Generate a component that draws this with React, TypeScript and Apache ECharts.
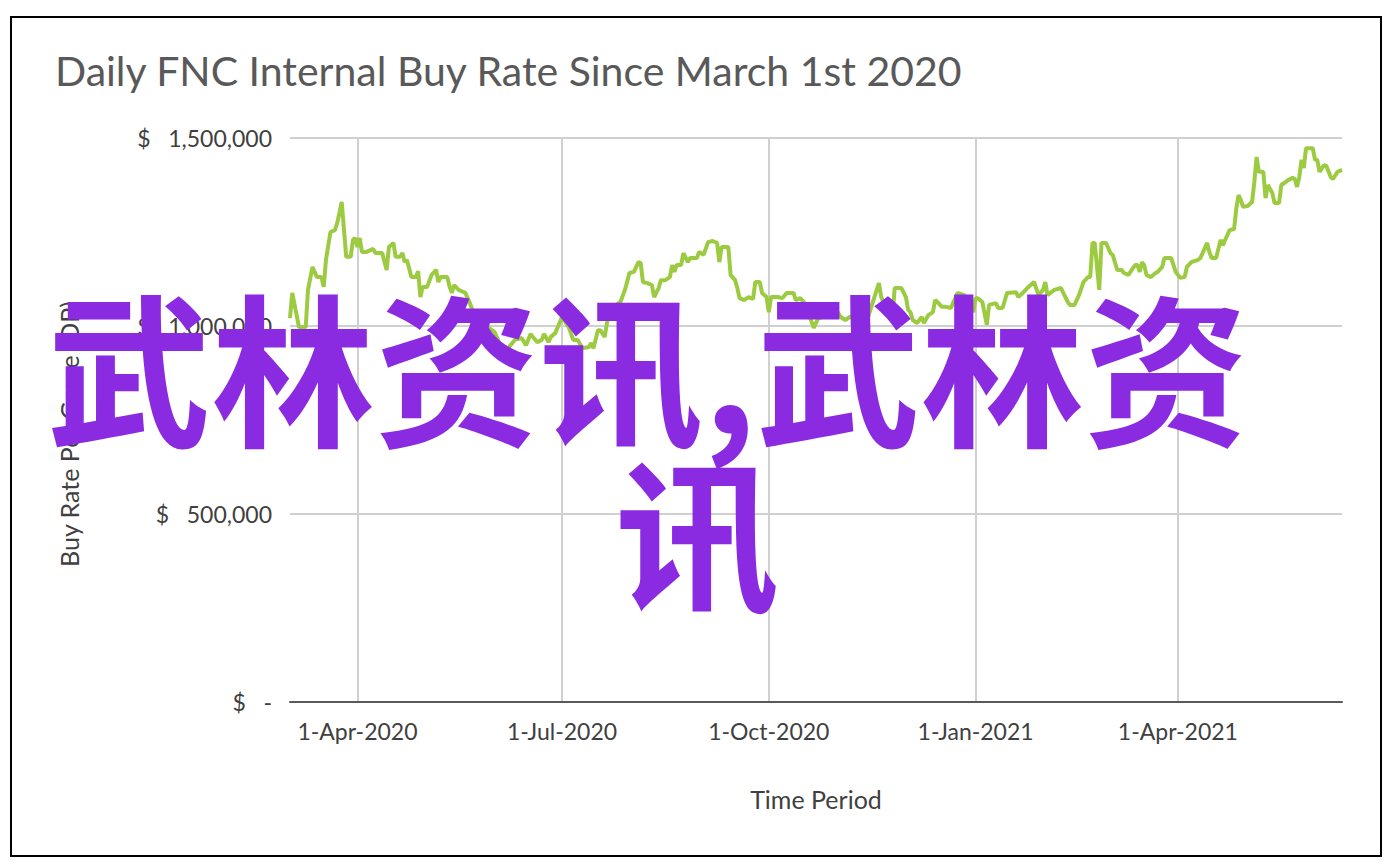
import React, { useEffect, useRef } from "react";
import * as echarts from "echarts";

// ---- data ----
const dates: string[] = [
  "2020-03-02","2020-03-03","2020-03-06","2020-03-09","2020-03-10","2020-03-12","2020-03-14","2020-03-16","2020-03-17","2020-03-18","2020-03-20","2020-03-22","2020-03-23","2020-03-24","2020-03-25","2020-03-27","2020-03-29","2020-03-30","2020-03-31",
  "2020-04-01","2020-04-02","2020-04-03","2020-04-05","2020-04-08","2020-04-09","2020-04-12","2020-04-14","2020-04-15","2020-04-17","2020-04-18","2020-04-20","2020-04-21","2020-04-22","2020-04-23","2020-04-25","2020-04-27","2020-04-28","2020-04-29","2020-04-30",
  "2020-05-02","2020-05-04","2020-05-06","2020-05-07","2020-05-08","2020-05-11","2020-05-12","2020-05-13","2020-05-14","2020-05-16","2020-05-19","2020-05-21","2020-05-23","2020-05-27","2020-05-29",
  "2020-06-01","2020-06-04","2020-06-07","2020-06-10","2020-06-13","2020-06-15","2020-06-17","2020-06-20","2020-06-22","2020-06-23","2020-06-25","2020-06-26","2020-06-28",
  "2020-07-01","2020-07-04","2020-07-06","2020-07-08","2020-07-10","2020-07-13","2020-07-14","2020-07-15","2020-07-17","2020-07-18","2020-07-20","2020-07-21","2020-07-22","2020-07-27","2020-07-29","2020-07-31",
  "2020-08-02","2020-08-04","2020-08-05","2020-08-06","2020-08-08","2020-08-10","2020-08-11","2020-08-13","2020-08-14","2020-08-16","2020-08-18","2020-08-19","2020-08-20","2020-08-21","2020-08-23","2020-08-24","2020-08-26","2020-08-27","2020-08-30","2020-08-31",
  "2020-09-02","2020-09-04","2020-09-06","2020-09-08","2020-09-09","2020-09-10","2020-09-13","2020-09-14","2020-09-16","2020-09-17","2020-09-18","2020-09-20","2020-09-22","2020-09-24","2020-09-25","2020-09-27","2020-09-28","2020-09-30",
  "2020-10-01","2020-10-02","2020-10-05","2020-10-07","2020-10-09","2020-10-12","2020-10-13","2020-10-15","2020-10-17","2020-10-19","2020-10-21","2020-10-23","2020-10-25","2020-10-27","2020-10-31",
  "2020-11-02","2020-11-04","2020-11-06","2020-11-09","2020-11-12","2020-11-14","2020-11-17","2020-11-19","2020-11-20","2020-11-21","2020-11-23","2020-11-25","2020-11-26","2020-11-29",
  "2020-12-01","2020-12-02","2020-12-03","2020-12-04","2020-12-06","2020-12-08","2020-12-09","2020-12-11","2020-12-13","2020-12-14","2020-12-15","2020-12-17","2020-12-19","2020-12-21","2020-12-24","2020-12-27","2020-12-29","2020-12-31",
  "2021-01-01","2021-01-02","2021-01-04","2021-01-06","2021-01-07","2021-01-10","2021-01-11","2021-01-13","2021-01-15","2021-01-19","2021-01-20","2021-01-22","2021-01-24","2021-01-27","2021-01-29","2021-01-31",
  "2021-02-01","2021-02-02","2021-02-05","2021-02-08","2021-02-09","2021-02-11","2021-02-12","2021-02-14","2021-02-16","2021-02-18","2021-02-20","2021-02-21","2021-02-22","2021-02-23","2021-02-25","2021-02-26","2021-02-28",
  "2021-03-02","2021-03-03","2021-03-05","2021-03-07","2021-03-08","2021-03-10","2021-03-12","2021-03-13","2021-03-14","2021-03-15","2021-03-16","2021-03-17","2021-03-18","2021-03-20","2021-03-22","2021-03-23","2021-03-25","2021-03-26","2021-03-29","2021-03-31",
  "2021-04-02","2021-04-04","2021-04-05","2021-04-07","2021-04-10","2021-04-11","2021-04-12","2021-04-14","2021-04-15","2021-04-16","2021-04-18","2021-04-20","2021-04-21","2021-04-23","2021-04-24","2021-04-26","2021-04-27","2021-04-28","2021-04-29","2021-04-30",
  "2021-05-02","2021-05-04","2021-05-05","2021-05-06","2021-05-07","2021-05-09","2021-05-10","2021-05-11","2021-05-13","2021-05-14","2021-05-16","2021-05-17","2021-05-19","2021-05-20","2021-05-22","2021-05-23","2021-05-24","2021-05-25","2021-05-26","2021-05-27","2021-05-28","2021-05-31",
  "2021-06-01","2021-06-02","2021-06-03","2021-06-05","2021-06-06","2021-06-08","2021-06-09","2021-06-11","2021-06-13",
];

const buyRate: number[] = [
  1021000,1088000,997000,997000,1096000,1157000,1130000,1130000,1104000,1176000,1250000,1255000,1274000,1301000,1330000,1184000,1184000,1229000,1234000,
  1210000,1234000,1197000,1197000,1205000,1194000,1194000,1149000,1210000,1221000,1184000,1184000,1194000,1170000,1176000,1130000,1130000,1146000,1077000,1104000,
  1104000,1136000,1149000,1117000,1130000,1130000,1104000,1088000,1109000,1096000,1088000,1061000,1029000,1011000,997000,
  984000,944000,941000,963000,968000,949000,979000,957000,963000,979000,957000,971000,981000,
  1024000,997000,963000,963000,941000,944000,955000,941000,989000,989000,971000,1008000,1043000,1064000,1096000,1141000,
  1144000,1170000,1168000,1117000,1114000,1109000,1077000,1101000,1122000,1122000,1130000,1162000,1144000,1162000,1162000,1194000,1170000,1181000,1181000,1197000,
  1189000,1223000,1226000,1221000,1170000,1210000,1210000,1136000,1122000,1101000,1074000,1069000,1077000,1072000,1117000,1117000,1088000,1077000,
  1037000,1077000,1077000,1074000,1088000,1088000,1069000,1074000,1061000,1029000,995000,1021000,1024000,1053000,1043000,
  1024000,1016000,1024000,1029000,1021000,1021000,1077000,1114000,1077000,1064000,1035000,1021000,1101000,1101000,
  1077000,1043000,1037000,1016000,1008000,1024000,1008000,1029000,1037000,1069000,1064000,1051000,1051000,1048000,1088000,1082000,1064000,1037000,
  1074000,1074000,1064000,1003000,1056000,1061000,1048000,1048000,1088000,1090000,1077000,1088000,1101000,1117000,1082000,1096000,
  1117000,1082000,1096000,1101000,1088000,1064000,1056000,1056000,1082000,1117000,1130000,1130000,1221000,1221000,1096000,1221000,1221000,
  1194000,1189000,1149000,1149000,1141000,1136000,1154000,1162000,1162000,1144000,1170000,1162000,1136000,1130000,1141000,1144000,1157000,1181000,1181000,1144000,
  1128000,1130000,1157000,1170000,1176000,1181000,1194000,1221000,1197000,1181000,1181000,1229000,1215000,1242000,1255000,1258000,1314000,1348000,1335000,1317000,
  1319000,1330000,1383000,1449000,1410000,1410000,1340000,1375000,1354000,1327000,1327000,1375000,1383000,1388000,1394000,1391000,1370000,1396000,1442000,1420000,1473000,1473000,
  1442000,1442000,1410000,1428000,1426000,1396000,1391000,1410000,1415000,
];

const axisStart = "2020-03-02";
const axisEnd = "2021-06-13";
const xTickDates: string[] = ["2020-04-01", "2020-07-01", "2020-10-01", "2021-01-01", "2021-04-01"];
const yTicks: number[] = [0, 500000, 1000000, 1500000];

const titleText = "Daily FNC Internal Buy Rate Since March 1st 2020";
const xName = "Time Period";
const yName = "Buy Rate Per Game (OP)";
const watermarkLine1 = "武林资讯,武林资";
const watermarkLine2 = "讯";

const MONTHS = ["Jan", "Feb", "Mar", "Apr", "May", "Jun", "Jul", "Aug", "Sep", "Oct", "Nov", "Dec"];

function toTime(s: string): number {
  const [y, m, d] = s.split("-").map(Number);
  return new Date(y, m - 1, d).getTime();
}

function fmtDate(v: number): string {
  const d = new Date(v);
  return `${d.getDate()}-${MONTHS[d.getMonth()]}-${d.getFullYear()}`;
}

function fmtMoney(v: number): string {
  if (v === 0) return "$   -";
  return "$   " + v.toLocaleString("en-US");
}

export default function App() {
  const ref = useRef<HTMLDivElement>(null);

  useEffect(() => {
    if (!ref.current) return;
    const chart = echarts.init(ref.current, null, { renderer: "svg" });
    const seriesData = dates.map((d, i) => [toTime(d), buyRate[i]]);
    const tickVals = xTickDates.map(toTime);
    const labelFont = "Lato, 'Open Sans', sans-serif";
    const cjkFont = "'Noto Sans CJK SC', sans-serif";

    chart.setOption({
      animation: false,
      backgroundColor: "#ffffff",
      title: {
        text: titleText,
        left: 50,
        top: 45,
        textStyle: {
          fontFamily: labelFont,
          fontSize: 41,
          fontWeight: "normal",
          color: "#595959",
        },
      },
      grid: { left: 290, top: 138, width: 1052, height: 564, containLabel: false },
      xAxis: {
        type: "value",
        min: toTime(axisStart),
        max: toTime(axisEnd),
        name: xName,
        nameLocation: "middle",
        nameGap: 84,
        nameTextStyle: { fontFamily: labelFont, fontSize: 25, color: "#404040" },
        axisLine: { show: true, lineStyle: { color: "#595959", width: 2 } },
        axisTick: { show: false, customValues: tickVals },
        axisLabel: {
          customValues: tickVals,
          formatter: (v: number) => fmtDate(v),
          margin: 17,
          fontFamily: labelFont,
          fontSize: 23,
          color: "#404040",
        },
        splitLine: { show: true, lineStyle: { color: "#d0d0d0", width: 2 } },
      },
      yAxis: {
        type: "value",
        min: yTicks[0],
        max: yTicks[yTicks.length - 1],
        interval: yTicks[1] - yTicks[0],
        name: yName,
        nameLocation: "middle",
        nameGap: 209,
        nameRotate: 90,
        nameTextStyle: {
          fontFamily: labelFont,
          fontSize: 25,
          color: "#404040",
          padding: [0, 28, 0, 0],
        },
        axisLine: { show: false },
        axisTick: { show: false },
        axisLabel: {
          formatter: (v: number) => fmtMoney(v),
          margin: 18,
          fontFamily: labelFont,
          fontSize: 23,
          color: "#404040",
        },
        splitLine: { show: true, lineStyle: { color: "#d0d0d0", width: 2 } },
      },
      series: [
        {
          type: "line",
          data: seriesData,
          showSymbol: false,
          symbol: "none",
          lineStyle: { color: "#9ccb42", width: 4 },
          z: 3,
        },
      ],
      graphic: [
        {
          type: "rect",
          z: 50,
          shape: { x: 11, y: 17, width: 1370, height: 839 },
          style: { fill: "none", stroke: "#000000", lineWidth: 2 },
          silent: true,
        },
        {
          type: "text",
          z: 100,
          x: 47,
          y: 362,
          style: {
            text: watermarkLine1,
            fontFamily: cjkFont,
            fontWeight: "bold",
            fontSize: 164,
            fill: "#8a2be2",
            textAlign: "left",
            textVerticalAlign: "middle",
          },
          silent: true,
        },
        {
          type: "text",
          z: 100,
          x: 697,
          y: 527,
          style: {
            text: watermarkLine2,
            fontFamily: cjkFont,
            fontWeight: "bold",
            fontSize: 164,
            fill: "#8a2be2",
            textAlign: "center",
            textVerticalAlign: "middle",
          },
          silent: true,
        },
      ],
    });

    return () => chart.dispose();
  }, []);

  return (
    <div
      ref={ref}
      style={{ position: "fixed", left: 0, top: 0, width: 1394, height: 866, background: "#fff" }}
    />
  );
}
